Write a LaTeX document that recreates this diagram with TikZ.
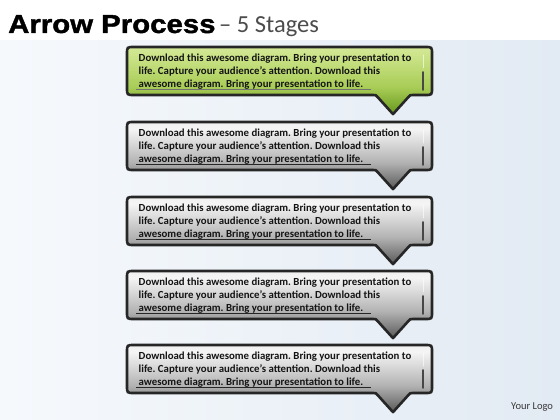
\documentclass[tikz,border=0pt]{standalone}
\usepackage{fontspec}
\setmainfont{Carlito}
\frenchspacing
\newfontface\titlefont[FakeStretch=1.13,FakeBold=1.5]{Liberation Sans Bold}
\definecolor{bgL}{RGB}{246,249,252}
\definecolor{bgR}{RGB}{226,234,243}
\definecolor{ink}{RGB}{20,20,20}
\definecolor{gA}{RGB}{40,80,8}
\definecolor{gB}{RGB}{112,160,36}
\definecolor{gC}{RGB}{168,204,86}
\definecolor{gD}{RGB}{206,229,140}
\definecolor{gE}{RGB}{224,238,180}
\definecolor{gF}{RGB}{196,218,130}
\pgfdeclareverticalshading{grayball}{100bp}{color(0bp)=(black!95); color(28bp)=(black!60); color(45bp)=(black!30); color(70bp)=(black!4); color(90bp)=(black!12); color(100bp)=(black!35)}
\pgfdeclareverticalshading{greenball}{100bp}{color(0bp)=(gA); color(28bp)=(gB); color(45bp)=(gC); color(70bp)=(gD); color(90bp)=(gE); color(100bp)=(gF)}
\tikzset{
  rim/.style={draw=black!85, line width=2.6pt},
  bodytext/.style={anchor=base west, inner sep=0pt, font=\fontsize{10.8}{12}\selectfont\bfseries, text=ink},
  sidebar/.style={line width=1.8pt, draw=black!72, line cap=round},
  uline/.style={line width=0.9pt, draw=black!85},
}
\newcommand\balloon[2]{%
  \draw[shading=#2, rim] (134,#1) -- (425,#1) .. controls (432,#1) .. (432,#1+7)
    -- (432,#1+41) .. controls (432,#1+48) .. (425,#1+48)
    -- (413,#1+48) .. controls (410,#1+48) .. (408,#1+50.5)
    -- (394,#1+66) .. controls (393,#1+67.2) .. (392,#1+66)
    -- (378,#1+50.5) .. controls (376,#1+48) .. (373,#1+48)
    -- (134,#1+48) .. controls (127,#1+48) .. (127,#1+41)
    -- (127,#1+7) .. controls (127,#1) .. (134,#1) -- cycle;
  \draw[sidebar] (423,#1+25) -- (423,#1+43);
  \draw[line width=1pt, white, opacity=0.6, line cap=round] (423,#1+8) -- (423,#1+21);
}
\newcommand\stagetext[3]{%
  \node[bodytext] (#1a) at (138.5,#2+14.5) {Download this awesome diagram. Bring your presentation to};
  \node[bodytext] (#1b) at (138.5,#2+27.5) {life. Capture your audience’s attention. Download this};
  \node[bodytext] (#1c) at (138.5,#2+40.5) {awesome diagram. Bring your presentation to life.};
  \draw[uline, #3] (136,#2+42.6) -- (371,#2+42.6);
}
\begin{document}
\begin{tikzpicture}[x=1pt,y=-1pt]
\useasboundingbox (0,0) rectangle (560,420);
\shade[left color=bgL, middle color=white, right color=bgR] (0,40) rectangle (560,420);
\fill[white] (0,0) rectangle (560,40);
\node[anchor=base west, inner sep=0pt, font=\titlefont\fontsize{26}{30}\selectfont, text=black] (title) at (8,33) {Arrow Process};
\node[anchor=base west, inner sep=0pt, font=\fontsize{24.5}{28}\selectfont, text=black!70] (sub) at (219,33) {– 5 Stages};
\balloon{47}{greenball}
\stagetext{s1}{47}{draw=black!55}
\balloon{122}{grayball}
\stagetext{s2}{122}{}
\balloon{197}{grayball}
\stagetext{s3}{197}{}
\balloon{271}{grayball}
\stagetext{s4}{271}{}
\balloon{345}{grayball}
\stagetext{s5}{345}{}
\node[anchor=base west, inner sep=0pt, font=\fontsize{10.5}{12}\selectfont, text=black!78] (logo) at (511,409) {Your Logo};
\end{tikzpicture}
\end{document}
